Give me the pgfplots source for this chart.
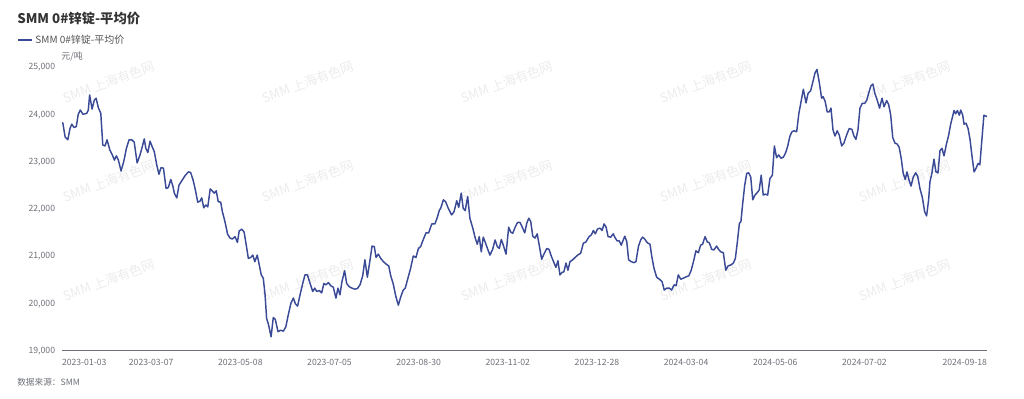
\documentclass[border=0pt]{standalone}
\usepackage{fontspec}
\setmainfont{Noto Sans CJK SC}
\usepackage{pgfplots}
\pgfplotsset{compat=1.18}
\definecolor{linec}{RGB}{59,74,150}
\definecolor{txt}{RGB}{51,51,51}
\definecolor{lab}{RGB}{110,112,121}
\definecolor{axisc}{RGB}{110,112,121}
\definecolor{wm}{RGB}{236,236,236}
\begin{document}
\begin{tikzpicture}
\useasboundingbox (0,0) rectangle (768pt,299.25pt);
% watermarks
\foreach \wx in {81.75,231,380.25,529.5,678.75}{
  \foreach \wy in {237.75,163.5,89.25}{
    \node[rotate=20,text=wm,inner sep=0pt,font=\fontsize{9.75}{10}\selectfont] at (\wx pt,\wy pt) {SMM 上海有色网};
  }}
\node[anchor=west,inner sep=0pt,font=\bfseries\fontsize{10}{12}\selectfont,text=txt] at (12.75pt,285.75pt) {SMM 0\#锌锭-平均价};
\node[anchor=west,inner sep=0pt,font=\fontsize{6.75}{8}\selectfont,text=lab] at (45.75pt,257pt) {元/吨};
\node[anchor=west,inner sep=0pt,font=\fontsize{6.5}{8}\selectfont,text=lab] at (12.75pt,12.75pt) {数据来源：SMM};
\begin{axis}[
  at={(46.5pt,36pt)}, anchor=south west,
  scale only axis, width=693.75pt, height=212.625pt,
  xmin=0, xmax=415, ymin=19000, ymax=25000,
  axis x line*=bottom, axis y line*=left,
  x axis line style={-, draw=axisc, line width=0.75pt},
  y axis line style={draw=none},
  major tick length=0pt,
  xtick={0,40,80,120,160,200,240,280,320,360,415},
  xticklabels={\makebox[0pt][l]{2023-01-03},2023-03-07,2023-05-08,2023-07-05,2023-08-30,2023-11-02,2023-12-28,2024-03-04,2024-05-06,2024-07-02,\makebox[0pt][r]{2024-09-18}},
  xticklabel style={font=\fontsize{6.5}{8}\selectfont, text=lab, inner sep=0pt, yshift=-6pt},
  ytick={19000,20000,21000,22000,23000,24000,25000},
  scaled y ticks=false,
  yticklabel style={font=\fontsize{6.5}{8}\selectfont, text=lab, anchor=east, inner sep=0pt, xshift=-5pt},
  /pgf/number format/.cd, 1000 sep={,}, assume math mode=true,
  /pgfplots/.cd,
  legend style={at={(-0.0486,1.097)}, anchor=west, draw=none, fill=none, inner sep=0pt,
    font=\fontsize{7.5}{9}\selectfont, text=txt!85, legend cell align=left},
  legend image code/.code={\draw[#1, line width=1.1pt] (0pt,0pt) -- (10.5pt,0pt);},
]
\addplot[linec, line width=1.1pt, line join=round] coordinates {
(0,23840)(0.4,23820)(1.4,23530)(2.6,23470)(3.6,23710)(4.4,23800)(5.4,23730)(6.4,23750)(7.3,24010)(8.2,24100)
(9.4,24010)(11.1,24030)(11.8,24100)(12.4,24420)(13.5,24120)(14.5,24310)(15.3,24350)(16.3,24150)(17.4,24030)(18.3,23360)
(19.3,23340)(20.2,23470)(21.5,23250)(22.6,23150)(23.5,23040)(24.4,23130)(25.3,23040)(26.5,22810)(27.7,23010)(28.9,23290)
(30.1,23470)(31.3,23470)(32.4,23420)(33.7,22980)(35.0,23150)(36.0,23320)(36.9,23490)(37.6,23290)(38.5,23200)(39.5,23440)
(40.5,23320)(41.4,23220)(42.5,22940)(43.5,22740)(44.4,22880)(45.5,22870)(46.7,22440)(47.7,22460)(48.8,22630)(49.8,22480)
(50.4,22340)(51.5,22240)(52.5,22510)(53.7,22600)(55.2,22710)(56.7,22790)(57.7,22780)(58.8,22620)(59.7,22440)(60.9,22150)
(61.9,22170)(62.7,22240)(63.6,22030)(64.5,22090)(65.4,22050)(66.5,22430)(67.4,22390)(68.3,22340)(69.2,22390)(70.1,22160)
(71.2,22150)(71.9,21960)(73.1,21740)(74.3,21470)(75.4,21390)(76.4,21370)(77.6,21420)(78.7,21300)(79.5,21540)(80.6,21580)
(81.7,21520)(82.6,21260)(83.6,20960)(84.7,20980)(85.6,21030)(86.5,20890)(87.6,21030)(88.5,20820)(89.4,20610)(90.3,20540)
(91.1,20190)(91.8,19690)(92.7,19550)(93.8,19300)(94.8,19710)(95.7,19670)(96.9,19410)(98.1,19440)(99.3,19420)(100.4,19510)
(101.5,19760)(102.7,20010)(103.8,20120)(104.7,20000)(105.7,19950)(106.8,20190)(108.0,20430)(109.0,20610)(110.1,20610)(111.3,20430)
(112.5,20260)(113.4,20330)(114.3,20260)(115.4,20280)(116.5,20230)(117.5,20430)(118.4,20400)(119.5,20450)(120.6,20380)(121.7,20350)
(122.9,20120)(123.8,20330)(124.7,20190)(125.6,20470)(126.8,20700)(127.7,20430)(128.9,20360)(130.1,20330)(131.3,20310)(132.5,20320)
(133.7,20400)(134.9,20590)(135.9,20930)(137.0,20560)(138.2,20930)(139.1,21220)(140.1,21210)(140.9,20980)(141.9,21050)(143.0,20960)
(144.2,20890)(145.4,20840)(146.6,20800)(147.5,20590)(148.6,20420)(149.8,20150)(150.9,19970)(152.0,20150)(153.1,20290)(154.0,20330)
(155.2,20540)(156.4,20750)(157.6,21010)(158.8,20980)(159.9,21170)(160.9,21210)(162.1,21360)(163.3,21500)(164.5,21500)(165.9,21690)
(167.3,21690)(168.4,21830)(169.3,21980)(169.9,22020)(171.1,22200)(172.1,22160)(173.3,22020)(174.8,21880)(175.9,21950)(177.1,22180)
(178.0,22040)(179.1,22340)(180.0,22020)(180.9,21970)(182.0,22270)(183.0,21810)(184.3,21600)(185.4,21390)(186.3,21260)(187.2,21420)
(188.1,21100)(189.0,21410)(190.2,21260)(191.1,21140)(192.0,21030)(193.2,21150)(194.3,21350)(195.3,21210)(196.2,21170)(197.1,21360)
(198.0,21240)(199.2,21050)(200.4,21620)(201.3,21520)(202.2,21490)(203.4,21630)(204.4,21720)(205.5,21720)(206.5,21620)(207.6,21500)
(208.5,21700)(209.4,21810)(210.3,21740)(211.2,21430)(212.2,21390)(213.2,21480)(214.1,21240)(215.2,20940)(216.2,21050)(217.5,21170)
(218.5,21150)(219.5,21010)(220.7,20870)(221.6,20770)(222.5,20910)(223.4,20610)(224.3,20660)(225.2,20680)(226.1,20860)(227.0,20710)
(227.9,20890)(229.1,20930)(230.2,20980)(231.4,21030)(232.7,21070)(233.9,21280)(235.1,21310)(236.3,21410)(237.5,21460)(238.4,21550)
(239.3,21480)(240.2,21580)(241.4,21600)(242.3,21550)(243.2,21690)(244.1,21620)(245.0,21420)(246.2,21410)(247.3,21480)(248.2,21390)
(249.1,21330)(250.0,21330)(250.9,21240)(251.8,21350)(252.5,21430)(253.4,21310)(254.2,20930)(255.4,20890)(256.6,20870)(257.5,20890)
(258.6,21210)(259.6,21350)(260.5,21410)(261.6,21360)(262.6,21290)(263.8,21260)(264.6,21000)(265.6,20750)(266.8,20560)(268.0,20520)
(269.2,20470)(270.2,20290)(271.3,20330)(272.5,20330)(273.5,20290)(274.6,20400)(275.5,20380)(276.5,20610)(277.6,20520)(278.7,20540)
(280.0,20570)(281.2,20590)(282.3,20710)(283.5,20930)(284.4,21120)(285.5,21080)(286.5,21240)(287.4,21260)(288.5,21420)(289.5,21310)
(290.4,21290)(291.5,21150)(292.5,21140)(293.7,21220)(294.6,21150)(295.5,21100)(296.7,21080)(297.8,20710)(298.8,20800)(300.0,20820)
(301.2,20860)(302.1,20960)(303.0,21310)(303.9,21700)(304.6,21740)(305.4,22130)(306.3,22510)(307.2,22760)(308.1,22770)(309.0,22680)
(309.9,22200)(310.9,22300)(311.9,22350)(312.8,22410)(313.7,22720)(314.6,22300)(315.5,22320)(316.6,22300)(317.6,22650)(318.7,22720)
(319.6,23340)(320.6,23090)(321.5,23150)(322.6,23080)(323.6,23100)(324.7,23200)(325.6,23340)(326.6,23550)(327.5,23640)(328.4,23660)
(329.6,23640)(330.6,24030)(331.7,24310)(332.6,24540)(333.8,24250)(334.7,24450)(335.9,24510)(336.8,24680)(337.8,24880)(338.7,24960)
(339.8,24670)(340.8,24350)(341.5,24380)(342.4,24280)(343.3,24060)(344.2,24060)(345.0,24140)(345.9,23680)(346.8,23550)(347.8,23660)
(348.7,23570)(349.8,23340)(350.8,23400)(352.0,23570)(353.2,23710)(354.4,23690)(355.3,23550)(356.2,23480)(357.1,23680)(358.0,24140)
(359.0,24240)(360.1,24240)(361.0,24300)(362.0,24470)(362.9,24610)(363.8,24650)(364.7,24450)(365.6,24330)(366.8,24140)(367.9,24350)
(368.8,24170)(370.0,24300)(370.9,24210)(371.8,23990)(372.7,23520)(373.7,23400)(374.7,23380)(375.6,23310)(376.5,23080)(377.4,22760)
(378.3,22630)(379.1,22790)(380.0,22620)(380.9,22490)(381.9,22680)(383.0,22770)(383.9,22700)(384.9,22440)(386.0,22250)(387.0,21950)
(387.9,21860)(388.8,22200)(389.4,22580)(390.3,22770)(391.2,23060)(392.1,22790)(393.0,22770)(393.9,23240)(394.8,23290)(395.7,23130)
(396.9,23400)(397.8,23570)(398.7,23800)(399.6,23970)(400.2,24090)(400.9,24020)(401.7,24090)(402.6,23990)(403.2,24100)(404.1,23990)
(404.7,23800)(405.6,23820)(406.5,23710)(407.4,23470)(408.3,23110)(409.2,22790)(410.1,22870)(411.0,22970)(411.8,22940)(412.7,23470)
(413.6,23990)(415.0,23960)
};
\addlegendentry{SMM 0\#锌锭-平均价}
\end{axis}
\end{tikzpicture}
\end{document}
